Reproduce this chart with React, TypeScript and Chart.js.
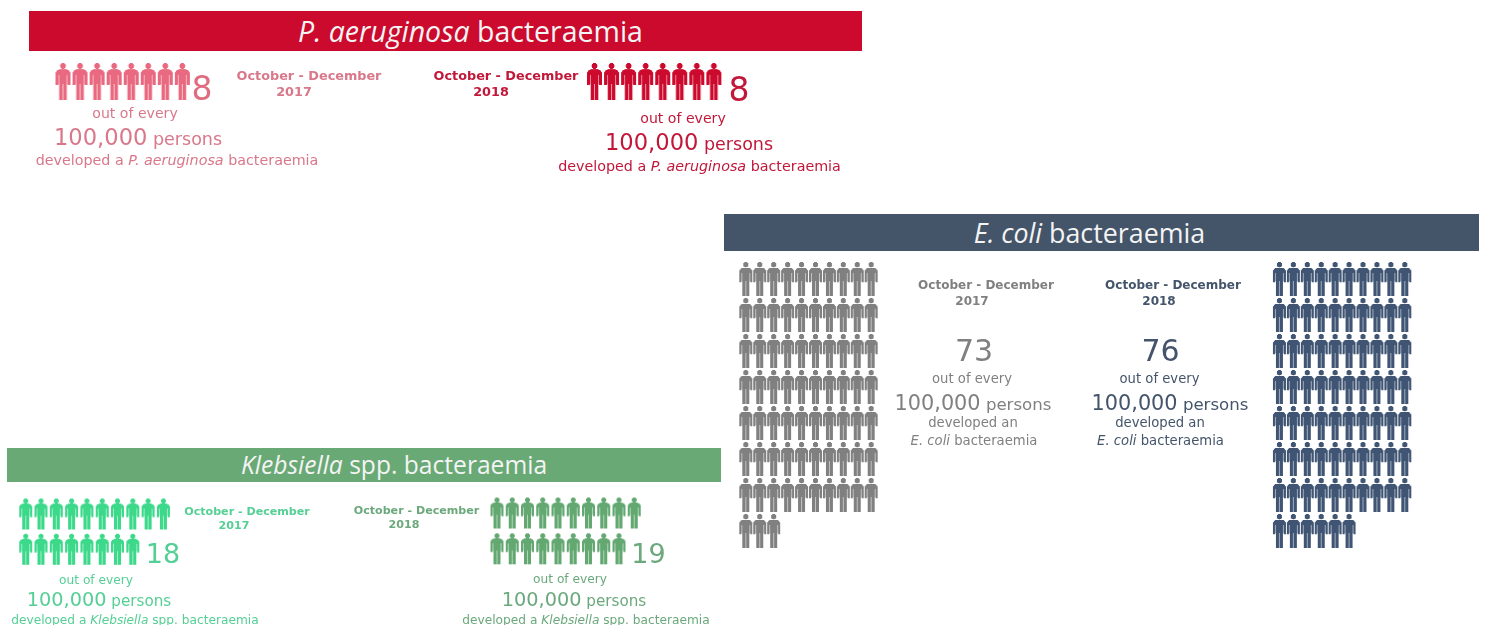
import React, { useEffect, useRef } from "react";
import { Chart, registerables } from "chart.js";

Chart.register(...registerables);

// ---- data ----
const organisms = ["P. aeruginosa", "E. coli", "Klebsiella spp."];
const periods = ["October - December 2017", "October - December 2018"];
const casesPaeruginosa = [8, 8];
const casesEcoli = [73, 76];
const casesKlebsiella = [18, 19];
const denominator = "100,000";

// ---- pictogram layout (page pixels) ----
type Block = { label: string; value: number; x0: number; y0: number; dx: number; dy: number; w: number; h: number; color: string };
const blocks: Block[] = [
  { label: `${organisms[0]} ${periods[0]}`, value: casesPaeruginosa[0], x0: 63, y0: 63, dx: 17.05, dy: 36, w: 15, h: 37, color: "#E96A80" },
  { label: `${organisms[0]} ${periods[1]}`, value: casesPaeruginosa[1], x0: 594.5, y0: 63, dx: 17.05, dy: 36, w: 15, h: 37, color: "#CC0A2D" },
  { label: `${organisms[1]} ${periods[0]}`, value: casesEcoli[0], x0: 745.8, y0: 262, dx: 13.93, dy: 36, w: 13, h: 34, color: "#808080" },
  { label: `${organisms[1]} ${periods[1]}`, value: casesEcoli[1], x0: 1279.4, y0: 262, dx: 13.93, dy: 36, w: 13, h: 34, color: "#3F5573" },
  { label: `${organisms[2]} ${periods[0]}`, value: casesKlebsiella[0], x0: 25.7, y0: 498.5, dx: 15.3, dy: 35.3, w: 13, h: 31, color: "#3DD98B" },
  { label: `${organisms[2]} ${periods[1]}`, value: casesKlebsiella[1], x0: 497, y0: 497.5, dx: 15.25, dy: 35.8, w: 13, h: 31, color: "#63A871" },
];

const headers = [
  { x: 29, y: 11, w: 833, h: 40, bg: "#CC0A2D", cx: 470.5, size: 28.5, it: "P. aeruginosa", rest: " bacteraemia" },
  { x: 724, y: 214, w: 755, h: 37, bg: "#445569", cx: 1089.5, size: 26.8, it: "E. coli", rest: " bacteraemia" },
  { x: 7, y: 448, w: 714, h: 34, bg: "#69A975", cx: 394, size: 24.6, it: "Klebsiella", rest: " spp. bacteraemia" },
];

type Run = { t: string; i?: boolean; s?: number };
type Label = { cx: number; cy: number; size: number; color: string; bold?: boolean; runs: Run[] };

const pk = "#D9788A", pkT = "#E06C80", rd = "#C1183A", gy = "#808080", nv = "#44546A", lg = "#55CF95", dg = "#6BA97C";

const labels: Label[] = [
  { cx: 202, cy: 87.5, size: 33, color: pkT, runs: [{ t: String(casesPaeruginosa[0]) }] },
  { cx: 309, cy: 76, size: 12.8, color: pk, bold: true, runs: [{ t: "October - December" }] },
  { cx: 294, cy: 92, size: 12.8, color: pk, bold: true, runs: [{ t: "2017" }] },
  { cx: 135, cy: 113, size: 14.1, color: pk, runs: [{ t: "out of every" }] },
  { cx: 138, cy: 137, size: 22.6, color: pk, runs: [{ t: denominator }, { t: " persons", s: 17.5 }] },
  { cx: 177, cy: 160, size: 14.3, color: pk, runs: [{ t: "developed a " }, { t: "P. aeruginosa", i: true }, { t: " bacteraemia" }] },

  { cx: 739, cy: 88.5, size: 33, color: rd, runs: [{ t: String(casesPaeruginosa[1]) }] },
  { cx: 506, cy: 76, size: 12.8, color: rd, bold: true, runs: [{ t: "October - December" }] },
  { cx: 491, cy: 92, size: 12.8, color: rd, bold: true, runs: [{ t: "2018" }] },
  { cx: 683, cy: 118, size: 14.1, color: rd, runs: [{ t: "out of every" }] },
  { cx: 689, cy: 142, size: 22.6, color: rd, runs: [{ t: denominator }, { t: " persons", s: 17.5 }] },
  { cx: 699.5, cy: 166, size: 14.3, color: rd, runs: [{ t: "developed a " }, { t: "P. aeruginosa", i: true }, { t: " bacteraemia" }] },

  { cx: 986, cy: 285, size: 12, color: gy, bold: true, runs: [{ t: "October - December" }] },
  { cx: 972, cy: 301, size: 12, color: gy, bold: true, runs: [{ t: "2017" }] },
  { cx: 974, cy: 351, size: 30, color: gy, runs: [{ t: String(casesEcoli[0]) }] },
  { cx: 972, cy: 379, size: 13.2, color: gy, runs: [{ t: "out of every" }] },
  { cx: 973, cy: 403, size: 20.8, color: gy, runs: [{ t: denominator }, { t: " persons", s: 16.6 }] },
  { cx: 973, cy: 423, size: 13.2, color: gy, runs: [{ t: "developed an" }] },
  { cx: 974, cy: 441, size: 13.2, color: gy, runs: [{ t: "E. coli", i: true }, { t: " bacteraemia" }] },

  { cx: 1173, cy: 285, size: 12, color: nv, bold: true, runs: [{ t: "October - December" }] },
  { cx: 1159, cy: 301, size: 12, color: nv, bold: true, runs: [{ t: "2018" }] },
  { cx: 1160.5, cy: 351, size: 30, color: nv, runs: [{ t: String(casesEcoli[1]) }] },
  { cx: 1159.5, cy: 379, size: 13.2, color: nv, runs: [{ t: "out of every" }] },
  { cx: 1170, cy: 403, size: 20.8, color: nv, runs: [{ t: denominator }, { t: " persons", s: 16.6 }] },
  { cx: 1160, cy: 423, size: 13.2, color: nv, runs: [{ t: "developed an" }] },
  { cx: 1160.5, cy: 441, size: 13.2, color: nv, runs: [{ t: "E. coli", i: true }, { t: " bacteraemia" }] },

  { cx: 247, cy: 511.5, size: 11.1, color: lg, bold: true, runs: [{ t: "October - December" }] },
  { cx: 234, cy: 525.5, size: 11.1, color: lg, bold: true, runs: [{ t: "2017" }] },
  { cx: 163, cy: 553, size: 27, color: lg, runs: [{ t: String(casesKlebsiella[0]) }] },
  { cx: 96, cy: 580, size: 12.2, color: lg, runs: [{ t: "out of every" }] },
  { cx: 99, cy: 600, size: 19.3, color: lg, runs: [{ t: denominator }, { t: " persons", s: 15.2 }] },
  { cx: 135, cy: 620, size: 12.2, color: lg, runs: [{ t: "developed a " }, { t: "Klebsiella", i: true }, { t: " spp. bacteraemia" }] },

  { cx: 416.5, cy: 511, size: 11.1, color: dg, bold: true, runs: [{ t: "October - December" }] },
  { cx: 404, cy: 525, size: 11.1, color: dg, bold: true, runs: [{ t: "2018" }] },
  { cx: 648.5, cy: 553, size: 27, color: dg, runs: [{ t: String(casesKlebsiella[1]) }] },
  { cx: 570, cy: 579, size: 12.2, color: dg, runs: [{ t: "out of every" }] },
  { cx: 574, cy: 600, size: 19.3, color: dg, runs: [{ t: denominator }, { t: " persons", s: 15.2 }] },
  { cx: 586, cy: 620, size: 12.2, color: dg, runs: [{ t: "developed a " }, { t: "Klebsiella", i: true }, { t: " spp. bacteraemia" }] },
];

const PER_ROW = 10;

function person(w: number, h: number, color: string): HTMLCanvasElement {
  const S = 4;
  const big = document.createElement("canvas");
  big.width = (w + 2) * S;
  big.height = (h + 2) * S;
  const c = big.getContext("2d")!;
  c.scale(S, S);
  c.translate(1, 1);
  c.fillStyle = color;
  // head
  c.beginPath();
  c.arc(w / 2, h * 0.08, h * 0.08, 0, Math.PI * 2);
  c.fill();
  // shoulders, arms and torso as one tapered outline
  c.beginPath();
  c.moveTo(w * 0.3, h * 0.17);
  c.lineTo(w * 0.7, h * 0.17);
  c.quadraticCurveTo(w, h * 0.18, w, h * 0.32);
  c.lineTo(w, h * 0.6);
  c.lineTo(w * 0.82, h * 0.6);
  c.lineTo(w * 0.82, h * 0.56);
  c.lineTo(w * 0.18, h * 0.56);
  c.lineTo(w * 0.18, h * 0.6);
  c.lineTo(0, h * 0.6);
  c.lineTo(0, h * 0.32);
  c.quadraticCurveTo(0, h * 0.18, w * 0.3, h * 0.17);
  c.closePath();
  c.fill();
  // legs
  c.fillRect(w * 0.24, h * 0.5, w * 0.25, h * 0.5);
  c.fillRect(w * 0.51, h * 0.5, w * 0.25, h * 0.5);
  // arm gaps
  c.clearRect(w * 0.19, h * 0.33, w * 0.04, h * 0.28);
  c.clearRect(w * 0.77, h * 0.33, w * 0.04, h * 0.28);
  const out = document.createElement("canvas");
  out.width = w + 2;
  out.height = h + 2;
  const o = out.getContext("2d")!;
  o.filter = "blur(0.3px)";
  o.drawImage(big, 0, 0, out.width, out.height);
  return out;
}

export default function App() {
  const ref = useRef<HTMLCanvasElement | null>(null);

  useEffect(() => {
    const datasets = blocks.map((b) => ({
      label: b.label,
      data: Array.from({ length: b.value }, (_, k) => ({
        x: b.x0 + (k % PER_ROW) * b.dx,
        y: b.y0 + b.h / 2 + Math.floor(k / PER_ROW) * b.dy,
      })),
      pointStyle: person(b.w, b.h, b.color),
      pointRadius: 8,
      showLine: false,
      clip: false as const,
    }));
    const chart = new Chart(ref.current!, {
      type: "scatter",
      data: { datasets },
      options: {
        animation: false,
        responsive: false,
        events: [],
        layout: { padding: 0, autoPadding: false },
        plugins: { legend: { display: false }, tooltip: { enabled: false }, title: { display: false } },
        scales: {
          x: { type: "linear", display: false, min: 0, max: 1486 },
          y: { type: "linear", display: false, min: 0, max: 625, reverse: true },
        },
      },
    });
    return () => chart.destroy();
  }, []);

  return (
    <div style={{ position: "absolute", left: 0, top: 0, width: 1486, height: 625, overflow: "hidden", background: "#fff", fontFamily: '"DejaVu Sans", sans-serif' }}>
      {headers.map((h, i) => (
        <div key={i} style={{ position: "absolute", left: h.x, top: h.y, width: h.w, height: h.h, background: h.bg }}>
          <span
            style={{
              position: "absolute",
              left: h.cx - h.x,
              top: "50%",
              transform: "translate(-50%,-50%)",
              whiteSpace: "pre",
              color: "#F4F4F4",
              fontFamily: '"Open Sans", sans-serif',
              fontSize: h.size,
              lineHeight: 1,
            }}
          >
            <i>{h.it}</i>
            {h.rest}
          </span>
        </div>
      ))}
      <canvas ref={ref} width={1486} height={625} style={{ position: "absolute", left: 0, top: 0, width: 1486, height: 625 }} />
      {labels.map((l, i) => (
        <div
          key={i}
          style={{
            position: "absolute",
            left: l.cx,
            top: l.cy,
            transform: "translate(-50%,-50%)",
            whiteSpace: "pre",
            color: l.color,
            fontSize: l.size,
            fontWeight: l.bold ? 700 : 400,
            lineHeight: 1,
          }}
        >
          {l.runs.map((r, j) => (
            <span key={j} style={{ fontStyle: r.i ? "italic" : "normal", fontSize: r.s ?? l.size }}>
              {r.t}
            </span>
          ))}
        </div>
      ))}
    </div>
  );
}
